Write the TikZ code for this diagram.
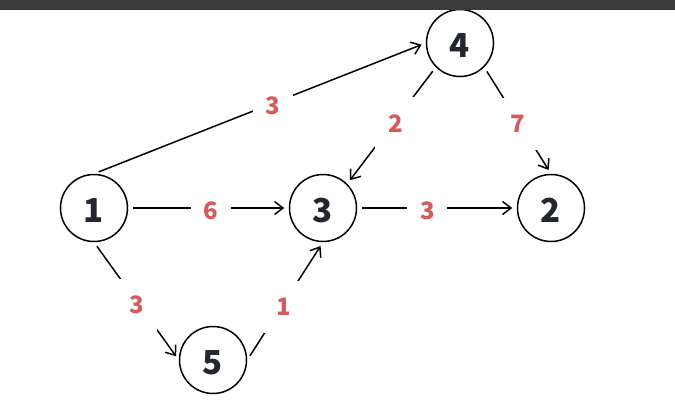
\documentclass[tikz,border=0pt]{standalone}
\usepackage{fontspec}
\newfontfamily\numfont{Noto Sans CJK SC}
\usetikzlibrary{arrows.meta}
\definecolor{txtc}{HTML}{23262F}
\definecolor{lblc}{HTML}{D65A5A}
\definecolor{barc}{HTML}{3B3B3B}
\begin{document}
\begin{tikzpicture}[x=1pt,y=-1pt,
  vtx/.style={circle, draw=black, line width=1.5pt, minimum size=67pt, inner sep=0pt},
  vtxtext/.style={inner sep=0pt, yshift=-2.5pt,
    font=\numfont\bfseries\fontsize{33}{33}\selectfont, text=txtc},
  edge/.style={draw=black, line width=1.5pt, -{Straight Barb[length=8.5pt,width=13pt]},
    shorten >=4.5pt, shorten <=5pt},
  lbl/.style={fill=white, inner sep=0pt, minimum width=40pt, minimum height=52pt, yshift=-3pt,
    text=lblc, font=\numfont\bfseries\fontsize{24}{24}\selectfont}]
\useasboundingbox (0,0) rectangle (675,410);
\node[vtx] (n1) at (94,208) {};
\node[vtx] (n3) at (323,208) {};
\node[vtx] (n2) at (551,208) {};
\node[vtx] (n4) at (460,43) {};
\node[vtx] (n5) at (213,360) {};
\node[vtxtext] (t1) at (n1) {1};
\node[vtxtext] (t3) at (n3) {3};
\node[vtxtext] (t2) at (n2) {2};
\node[vtxtext] (t4) at (n4) {4};
\node[vtxtext] (t5) at (n5) {5};
\draw[edge] (n1.north) -- node[lbl,pos=0.54]{3} (n4.west);
\draw[edge] (n1.east) -- node[lbl,pos=0.515]{6} (n3.west);
\draw[edge] (n3.east) -- node[lbl,pos=0.44]{3} (n2.west);
\draw[edge] (n4.south west) -- node[lbl,pos=0.456]{2} (n3.north east);
\draw[edge] (n4.south east) -- node[lbl,pos=0.507]{7} (n2.north);
\draw[edge] (n1.south) -- node[lbl,pos=0.509]{3} (n5.west);
\draw[edge] (n5.east) -- node[lbl,pos=0.477]{1} (n3.south);
\fill[barc] (0,0) rectangle (675,10);
\end{tikzpicture}
\end{document}
